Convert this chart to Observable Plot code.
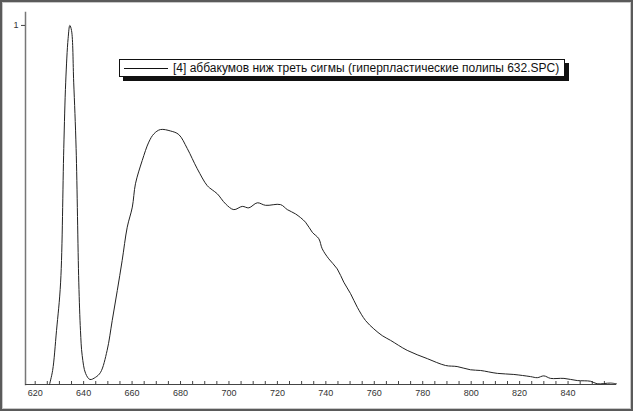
<!DOCTYPE html>
<html>
<head>
<meta charset="utf-8">
<script src="https://cdn.jsdelivr.net/npm/d3@7"></script>
<script src="https://cdn.jsdelivr.net/npm/@observablehq/plot@0.6"></script>
<style>
  html, body { margin: 0; padding: 0; background: #fff; }
  #wrap { position: relative; width: 633px; height: 411px; overflow: hidden;
          box-shadow: inset 0 0 0 2px #5a5a5a, inset 0 0 0 3px #c8c8c8; }
  #wrap svg { position: absolute; left: 0; top: 0; }
  #legend { position: absolute; left: 119px; top: 59px; width: 444px; height: 16px;
            background: #fff; border: 1px solid #111; box-shadow: 4px 4px 0 #111;
            font-family: "Liberation Sans", Arial, sans-serif; font-size: 12px; color: #111;
            white-space: nowrap; line-height: 16px; }
  #legend .sw { position: absolute; left: 4px; top: 8px; width: 44px; border-top: 1px solid #111; }
  #legend .tx { position: absolute; left: 53px; top: 0; }
</style>
</head>
<body>
<div id="wrap"></div>
<script>
// Wavelength (nm) and normalized intensity
const wavelength = [625.9, 627.2, 628.8, 630.5, 631.8, 632.6, 633.6, 634.3, 635.0, 635.9, 636.9, 638.0, 638.7, 639.4, 640.8, 642.6, 644.9, 647.0, 649.7, 651.8, 653.9, 655.9, 658.0, 660.1, 661.4, 664.2, 666.9, 669.0, 671.7, 675.9, 679.3, 682.8, 686.9, 691.0, 693.1, 695.2, 698.6, 702.0, 705.5, 708.2, 711.7, 715.1, 721.3, 724.1, 727.5, 731.6, 734.4, 737.1, 738.5, 741.2, 744.7, 747.4, 750.2, 753.0, 756.4, 759.8, 763.3, 766.7, 773.6, 781.9, 789.4, 794.2, 799.7, 803.9, 810.8, 817.6, 824.5, 827.3, 830.0, 832.8, 838.3, 843.8, 849.3, 852.0, 857.5, 860.0];
const intensity  = [0.000, 0.039, 0.150, 0.285, 0.657, 0.842, 0.964, 1.000, 0.986, 0.842, 0.657, 0.285, 0.150, 0.081, 0.031, 0.014, 0.020, 0.034, 0.095, 0.178, 0.262, 0.345, 0.438, 0.494, 0.559, 0.624, 0.675, 0.698, 0.710, 0.706, 0.696, 0.657, 0.601, 0.554, 0.542, 0.531, 0.503, 0.487, 0.496, 0.492, 0.506, 0.499, 0.501, 0.487, 0.475, 0.452, 0.424, 0.406, 0.378, 0.350, 0.322, 0.285, 0.253, 0.215, 0.178, 0.155, 0.136, 0.123, 0.095, 0.072, 0.053, 0.050, 0.041, 0.039, 0.031, 0.028, 0.022, 0.019, 0.024, 0.017, 0.017, 0.011, 0.009, 0.002, 0.004, 0.002];
const xTickLabels = [620, 640, 660, 680, 700, 720, 740, 760, 780, 800, 820, 840];
const xMinorTicks = d3.range(620, 860, 5);
const yTickLabels = [1];
const legendLabel = "[4] аббакумов ниж треть сигмы (гиперпластические полипы 632.SPC)";

const data = wavelength.map((w, i) => ({w, v: intensity[i]}));

const chart = Plot.plot({
  width: 633,
  height: 411,
  marginTop: 12,
  marginBottom: 27,
  marginLeft: 25,
  marginRight: 17,
  style: {fontFamily: "'Liberation Sans', Arial, sans-serif", fontSize: "9px", color: "#333", background: "transparent", overflow: "visible"},
  x: {domain: [616, 860]},
  y: {domain: [0, 1.036]},
  marks: [
    Plot.frame({anchor: "left", stroke: "#777", strokeWidth: 1.5}),
    Plot.ruleY([0], {stroke: "#444", strokeWidth: 1.2}),
    Plot.axisX({ticks: xMinorTicks, tickSize: -3, text: null, stroke: "#444", label: null}),
    Plot.axisX({ticks: xTickLabels, tickSize: 0, tickPadding: 5, label: null, fill: "#333"}),
    Plot.axisY({ticks: yTickLabels, tickFormat: d => String(d), tickSize: 4, tickPadding: 3, label: null, stroke: "#444", fill: "#333"}),
    Plot.line(data, {x: "w", y: "v", stroke: "#222", strokeWidth: 1, curve: "catmull-rom"})
  ]
});
const wrap = document.getElementById("wrap");
wrap.appendChild(chart);
const lg = document.createElement("div");
lg.id = "legend";
lg.innerHTML = '<span class="sw"></span><span class="tx"></span>';
lg.querySelector(".tx").textContent = legendLabel;
wrap.appendChild(lg);
</script>
</body>
</html>
